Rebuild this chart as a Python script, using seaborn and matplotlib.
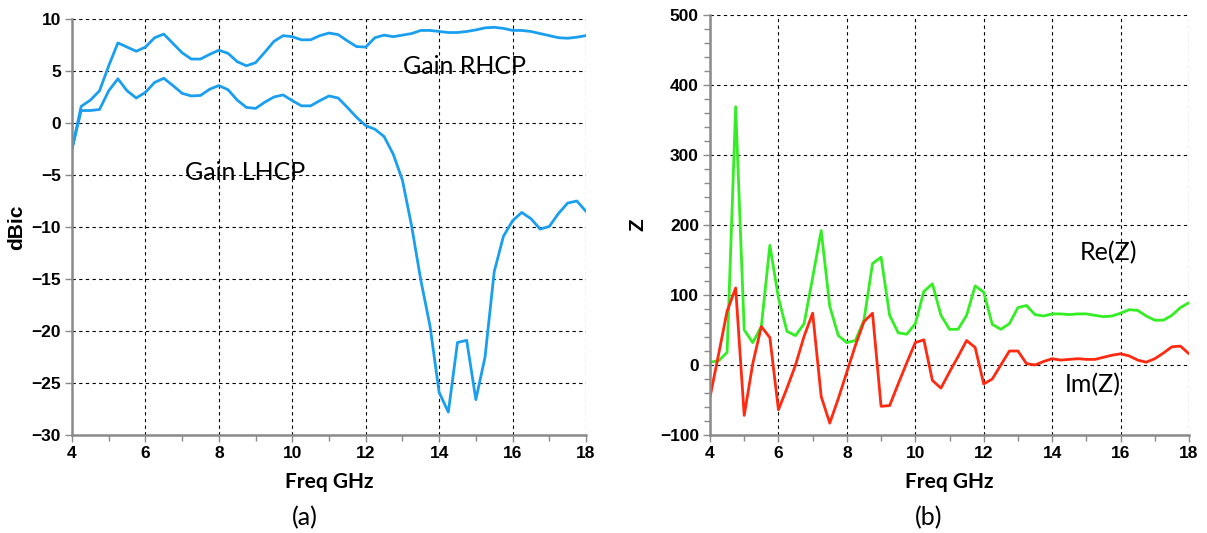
import numpy as np
import pandas as pd
import matplotlib
matplotlib.use("Agg")
import matplotlib.pyplot as plt
from matplotlib.ticker import MultipleLocator
import seaborn as sns

# ---------------- data ----------------
freq = [4.0, 4.25, 4.5, 4.75, 5.0, 5.25, 5.5, 5.75, 6.0, 6.25, 6.5, 6.75,
        7.0, 7.25, 7.5, 7.75, 8.0, 8.25, 8.5, 8.75, 9.0, 9.25, 9.5, 9.75,
        10.0, 10.25, 10.5, 10.75, 11.0, 11.25, 11.5, 11.75, 12.0, 12.25, 12.5, 12.75,
        13.0, 13.25, 13.5, 13.75, 14.0, 14.25, 14.5, 14.75, 15.0, 15.25, 15.5, 15.75,
        16.0, 16.25, 16.5, 16.75, 17.0, 17.25, 17.5, 17.75, 18.0]

gain_rhcp = [-2.5, 1.6, 2.2, 3.1, 5.5, 7.7, 7.3, 6.9, 7.3, 8.2, 8.55, 7.65,
             6.75, 6.15, 6.15, 6.6, 7.0, 6.7, 5.9, 5.5, 5.8, 6.8, 7.85, 8.4,
             8.3, 8.0, 8.0, 8.4, 8.65, 8.5, 7.9, 7.35, 7.3, 8.2, 8.45, 8.3,
             8.45, 8.6, 8.9, 8.9, 8.8, 8.7, 8.7, 8.8, 8.95, 9.15, 9.2, 9.1,
             8.9, 8.9, 8.8, 8.6, 8.4, 8.2, 8.15, 8.25, 8.4]

gain_lhcp = [-2.5, 1.2, 1.2, 1.3, 3.1, 4.25, 3.1, 2.4, 2.95, 3.9, 4.3, 3.6,
             2.85, 2.6, 2.65, 3.25, 3.6, 3.2, 2.2, 1.5, 1.4, 2.0, 2.5, 2.7,
             2.15, 1.65, 1.65, 2.15, 2.6, 2.4, 1.5, 0.55, -0.25, -0.6, -1.3, -3.0,
             -5.5, -9.9, -15.1, -19.5, -25.9, -27.8, -21.1, -20.9, -26.6, -22.5, -14.3, -10.9,
             -9.4, -8.6, -9.2, -10.2, -9.95, -8.7, -7.7, -7.5, -8.5]

re_z = [4, 6, 18, 369, 50, 32, 55, 171, 96, 48, 42, 59,
        125, 192, 84, 42, 32, 35, 64, 145, 154, 71, 46, 44,
        59, 105, 116, 71, 51, 51, 71, 113, 104, 58, 51, 59,
        82, 85, 72, 70, 73, 73, 72, 73, 73, 71, 69, 70,
        74, 79, 78, 70, 64, 64, 71, 82, 89]

im_z = [-46, 15, 77, 110, -72, 2, 55, 39, -64, -33, 0, 41,
        74, -45, -83, -48, -10, 28, 62, 74, -59, -58, -27, 3,
        32, 36, -22, -33, -10, 12, 35, 25, -27, -20, 0, 20,
        20, 2, 0, 5, 9, 7, 8, 9, 8, 8, 11, 14,
        16, 13, 7, 4, 9, 17, 26, 27, 16]

df_gain = pd.DataFrame({"freq": freq, "rhcp": gain_rhcp, "lhcp": gain_lhcp})
df_z = pd.DataFrame({"freq": freq, "re": re_z, "im": im_z})

# ---------------- style ----------------
sns.set_theme(style="white")
plt.rcParams["font.family"] = ["Liberation Sans", "DejaVu Sans"]

BLUE = "#1a9ff0"
GREEN = "#33ee22"
RED = "#ff2a10"
SPINE = "#8a8a8a"

fig = plt.figure(figsize=(12.07, 5.33), dpi=100)
axL = fig.add_axes([72/1207, 1-435/533, 514/1207, 416/533])
axR = fig.add_axes([710/1207, 1-435/533, 479/1207, 420/533])

sns.lineplot(data=df_gain, x="freq", y="rhcp", ax=axL, color=BLUE, linewidth=2)
sns.lineplot(data=df_gain, x="freq", y="lhcp", ax=axL, color=BLUE, linewidth=2)
sns.lineplot(data=df_z, x="freq", y="re", ax=axR, color=GREEN, linewidth=2)
sns.lineplot(data=df_z, x="freq", y="im", ax=axR, color=RED, linewidth=2)


def style_axes(ax):
    ax.set_xlim(4, 18)
    ax.xaxis.set_major_locator(MultipleLocator(2))
    ax.xaxis.set_minor_locator(MultipleLocator(1))
    ax.grid(True, which="major", color="black", linestyle=(0, (3, 3)), linewidth=0.8)
    ax.set_axisbelow(True)
    for s in ("top", "right"):
        ax.spines[s].set_visible(False)
    for s in ("left", "bottom"):
        ax.spines[s].set_color(SPINE)
        ax.spines[s].set_linewidth(1.8)
    ax.tick_params(which="both", direction="out", color=SPINE, width=1,
                   left=True, bottom=True, labelcolor="black")
    ax.tick_params(which="major", length=5, labelsize=12.5, pad=3)
    ax.tick_params(which="minor", length=4)
    for lab in ax.get_xticklabels() + ax.get_yticklabels():
        lab.set_fontweight("bold")
    ax.set_xlabel("Freq GHz", family=["Lato", "DejaVu Sans"], fontweight="bold",
                  fontsize=15, labelpad=8, color="black")


axL.set_ylim(-30, 10)
axL.yaxis.set_major_locator(MultipleLocator(5))
style_axes(axL)
axL.set_ylabel("dBic", fontweight="bold", fontsize=15, labelpad=4, color="black")

axR.set_ylim(-100, 500)
axR.yaxis.set_major_locator(MultipleLocator(100))
axR.yaxis.set_minor_locator(MultipleLocator(20))
style_axes(axR)
axR.set_ylabel("Z", fontweight="bold", fontsize=15, labelpad=9, color="black")

ann = dict(family=["Lato", "DejaVu Sans"], fontsize=18, color="black",
           ha="center", va="center")
axL.text(14.68, 5.4, "Gain RHCP", **ann)
axL.text(8.71, -4.8, "Gain LHCP", **ann)
axR.text(15.64, 160, "Re(Z)", **ann)
axR.text(15.2, -28, "Im(Z)", **ann)

fig.text(305/1207, 1-518/533, "(a)", **ann)
fig.text(929/1207, 1-518/533, "(b)", **ann)

fig.savefig("out.png", dpi=100)
